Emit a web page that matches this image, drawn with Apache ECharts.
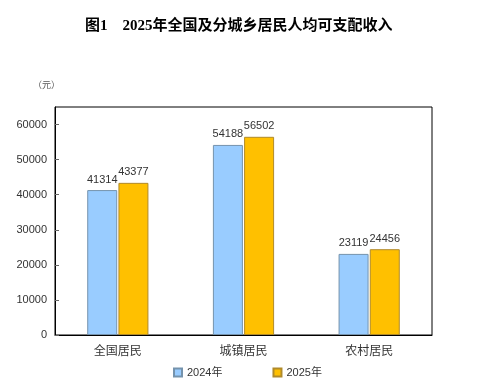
<!DOCTYPE html>
<html><head><meta charset="utf-8">
<script src="https://cdn.jsdelivr.net/npm/echarts@6/dist/echarts.min.js"></script>
<style>html,body{margin:0;padding:0;background:#fff}#c{width:502px;height:390px}</style>
</head><body><div id="c"></div>
<script>
const categories = ['全国居民', '城镇居民', '农村居民'];
const seriesNames = ['2024年', '2025年'];
const values2024 = [41314, 54188, 23119];
const values2025 = [43377, 56502, 24456];
const yTicks = [0, 10000, 20000, 30000, 40000, 50000, 60000];

const chart = echarts.init(document.getElementById('c'), null, {renderer: 'canvas'});
const labelStyle = {show: true, position: 'top', distance: 5, color: '#333', fontSize: 11, fontFamily: 'Liberation Sans'};
chart.setOption({
  animation: false,
  title: {
    text: '图1　2025年全国及分城乡居民人均可支配收入',
    left: 80, top: 14,
    textStyle: {fontSize: 15, fontWeight: 'bold', color: '#000', fontFamily: 'Liberation Serif, Noto Sans CJK SC'}
  },
  graphic: [{type: 'text', left: 33, top: 80, style: {text: '（元）', fontSize: 9, fill: '#555', fontFamily: 'Noto Sans CJK SC'}}],
  legend: {
    bottom: 7, left: 168, itemGap: 50, itemWidth: 8, itemHeight: 8, icon: 'rect',
    textStyle: {fontSize: 11, color: '#333', fontFamily: 'Liberation Sans, Noto Sans CJK SC'},
    data: seriesNames
  },
  grid: {left: 55, right: 70, top: 107, bottom: 55, show: true, borderColor: '#000', borderWidth: 1},
  xAxis: {
    type: 'category', data: categories,
    axisLine: {lineStyle: {color: '#000'}},
    axisTick: {show: false},
    axisLabel: {fontSize: 12, color: '#333', margin: 9, fontFamily: 'Noto Sans CJK SC'}
  },
  yAxis: {
    type: 'value', min: 0, max: 65000, interval: 10000,
    axisLine: {show: true, lineStyle: {color: '#000'}},
    axisTick: {show: true, inside: true, length: 4, lineStyle: {color: '#666'}},
    splitLine: {show: false},
    axisLabel: {fontSize: 11, color: '#333', margin: 8, showMaxLabel: false, fontFamily: 'Liberation Sans',
      formatter: v => yTicks.includes(v) ? String(v) : ''}
  },
  series: [
    {name: seriesNames[0], type: 'bar', data: values2024, barWidth: 30, barGap: '4%',
     itemStyle: {color: '#99CCFF', borderColor: '#7593ad', borderWidth: 1}, label: labelStyle},
    {name: seriesNames[1], type: 'bar', data: values2025, barWidth: 30,
     itemStyle: {color: '#FFC000', borderColor: '#b08a2a', borderWidth: 1}, label: labelStyle}
  ]
});
</script></body></html>
